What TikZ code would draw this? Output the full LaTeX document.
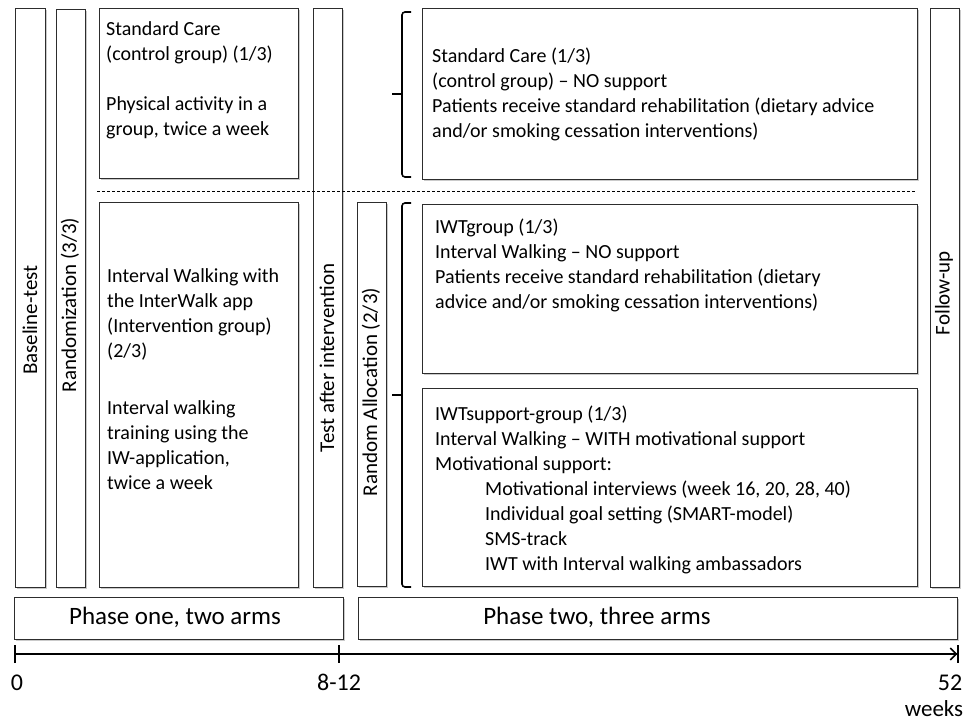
\documentclass[tikz,border=0pt]{standalone}
\usepackage{fontspec}
\setmainfont{Carlito}
\usetikzlibrary{arrows.meta,positioning,shadows}
\definecolor{frame}{RGB}{45,45,45}

\begin{document}
\begin{tikzpicture}[x=1pt,y=-1pt,
  box/.style={draw=frame,line width=1.2pt,fill=white,anchor=north west,inner sep=0pt,
    drop shadow={shadow xshift=1.5pt,shadow yshift=-1.5pt,opacity=0.35,fill=black!60}},
  txt/.style={anchor=north west,align=left,inner sep=0pt,font=\fontsize{20}{25}\selectfont},
  vtxt/.style={rotate=90,inner sep=0pt,font=\fontsize{21}{25}\selectfont},
  lbl/.style={inner sep=0pt,font=\fontsize{25}{30}\selectfont},
  wklbl/.style={anchor=base,inner sep=0pt,font=\fontsize{24}{28}\selectfont},
  brace/.style={line width=1.6pt,rounded corners=3pt}]
\useasboundingbox (0,0) rectangle (967,723);
% phase one
\node[box,minimum width=30pt,minimum height=579pt] (base) at (15,8) {};
\node[box,minimum width=29pt,minimum height=578pt] (rand) at (56,9) {};
\node[box,minimum width=199pt,minimum height=170pt] (care1) at (99,8) {};
\node[box,minimum width=199pt,minimum height=385pt] (walk1) at (99,202) {};
\node[box,minimum width=29pt,minimum height=579pt] (test) at (313,8) {};
% phase two
\node[box,minimum width=29pt,minimum height=384pt] (alloc) at (357,202) {};
\node[box,minimum width=495pt,minimum height=171pt] (care2) at (422,8) {};
\node[box,minimum width=495pt,minimum height=169pt] (iwt) at (422,204) {};
\node[box,minimum width=495pt,minimum height=198pt] (iwts) at (422,388) {};
\node[box,minimum width=29pt,minimum height=579pt] (follow) at (930,8) {};
\node[box,minimum width=329pt,minimum height=42pt] (ph1) at (14,597) {};
\node[box,minimum width=599pt,minimum height=42pt] (ph2) at (358,597) {};

% vertical labels
\node[vtxt] (tbase) at (30,320) {Baseline-test};
\node[vtxt] (trand) at (70,305) {Randomization (3/3)};
\node[vtxt] (ttest) at (327,358) {Test after intervention};
\node[vtxt] (talloc) at (371,392) {Random Allocation (2/3)};
\node[vtxt] (tfollow) at (944,293) {Follow-up};

% box texts
\node[txt] (tcare1) at (106,21) {Standard Care\\(control group) (1/3)\\[25pt]Physical activity in a\\group, twice a week};
\node[txt] (twalk1) at (107,268) {Interval Walking with\\the InterWalk app\\(Intervention group)\\(2/3)\\[32pt]Interval walking\\training using the\\IW-application,\\twice a week};
\node[txt] (tcare2) at (432,48) {Standard Care (1/3)\\(control group) -- NO support\\Patients receive standard rehabilitation (dietary advice\\and/or smoking cessation interventions)};
\node[txt] (tiwt) at (435,219) {IWTgroup (1/3)\\Interval Walking -- NO support\\Patients receive standard rehabilitation (dietary\\advice and/or smoking cessation interventions)};
\node[txt] (tiwts) at (435,406) {IWTsupport-group (1/3)\\Interval Walking -- WITH motivational support\\Motivational support:\\
  \hspace*{50pt}Motivational interviews (week 16, 20, 28, 40)\\
  \hspace*{50pt}Individual goal setting (SMART-model)\\
  \hspace*{50pt}SMS-track\\
  \hspace*{50pt}IWT with Interval walking ambassadors};
\node[lbl] (tph1) at (175,617) {Phase one, two arms};
\node[lbl] (tph2) at (597,617) {Phase two, three arms};

% dashed split
\coordinate (d0) at (97,191); \coordinate (d1) at (916,191);
\draw[line width=0.8pt,dash pattern=on 3pt off 2pt] (d0) -- (d1);

% braces
\coordinate (ua) at (411,12); \coordinate (ub) at (411,177); \coordinate (ut) at (392,94);
\draw[brace] (ua) -- (402,12) -- (402,177) -- (ub); \draw[brace] (402,94) -- (ut);
\coordinate (la) at (411,203); \coordinate (lb) at (411,587); \coordinate (lt) at (392,395);
\draw[brace] (la) -- (402,203) -- (402,587) -- (lb); \draw[brace] (402,395) -- (lt);

% time line
\coordinate (t0) at (14,654); \coordinate (t8) at (339,654); \coordinate (t52) at (959,654);
\draw[line width=1.6pt,{Bar[width=18pt]}-{Straight Barb[length=6pt,width=12pt]Bar[width=18pt]}] (t0) -- (t52);
\draw[line width=1.6pt] (t8) ++(0,-9) -- ++(0,18);
\node[wklbl] (w0) at (17,690) {0};
\node[wklbl] (w8) at (339,690) {8-12};
\node[wklbl] (w52) at (950,690) {52};
\node[wklbl,font=\fontsize{23}{27}\selectfont] (wk) at (934,716) {weeks};
\end{tikzpicture}
\end{document}
